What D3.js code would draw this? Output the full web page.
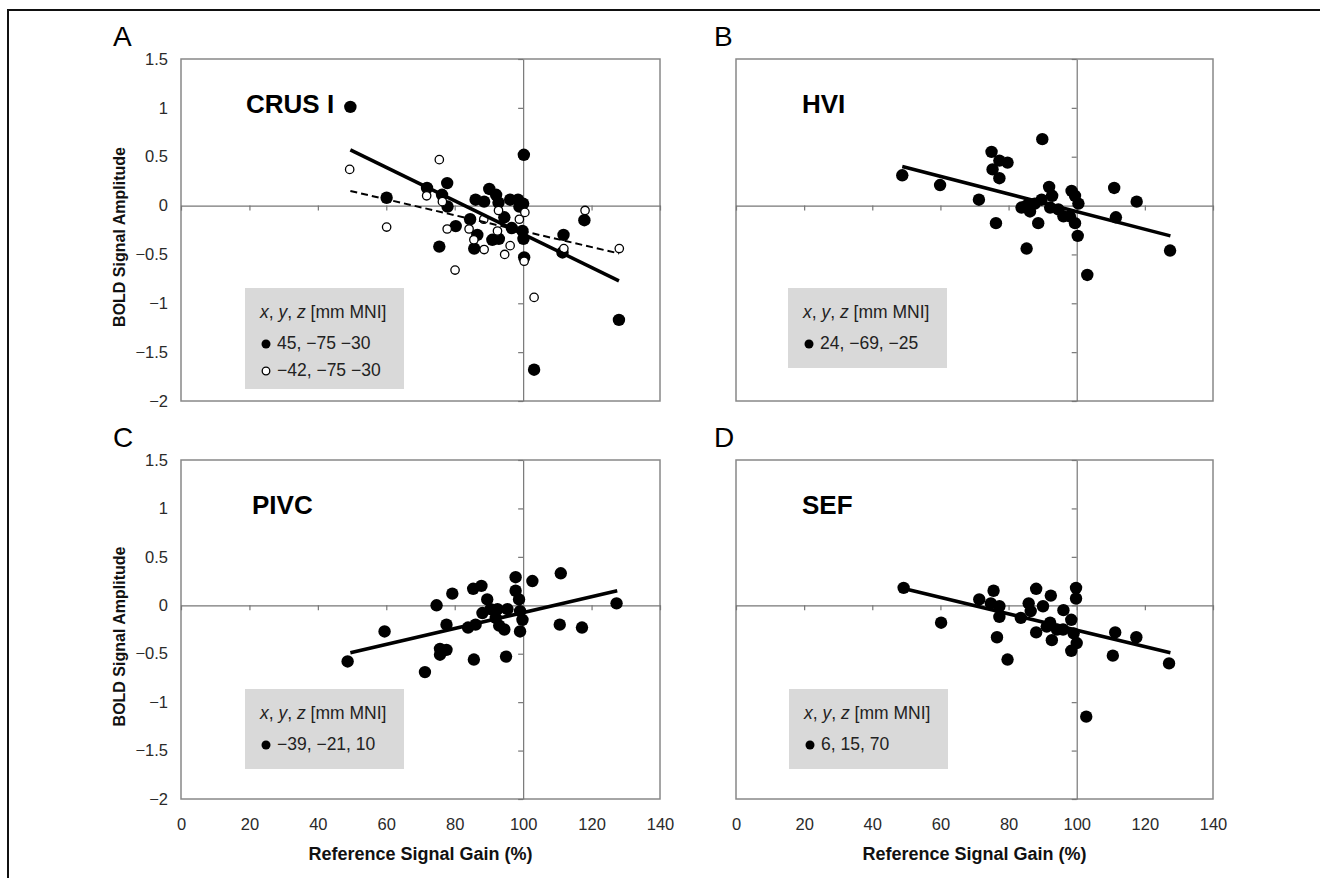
<!DOCTYPE html>
<meta charset="utf-8">
<style>

body {
  margin: 0;
  background: #fff;
}

svg {
  display: block;
  font-family: "Liberation Sans", Arial, sans-serif;
}

.frame {
  fill: none;
  stroke: #888;
  stroke-width: 1.5;
}

.zero .domain,
.zero line {
  stroke: #777;
  stroke-width: 1.2;
}

.labels .domain {
  display: none;
}

.labels text {
  font-size: 16.5px;
  fill: #2a2a2a;
}

.fit {
  fill: none;
  stroke: #000;
  stroke-width: 3.5;
}

.fit.dash {
  stroke-width: 2;
  stroke-dasharray: 7,4;
}

.dot { fill: #000; }
.dot.open { fill: #fff; stroke: #000; stroke-width: 1.3; }

.key rect { fill: #d9d9d9; }
.key text { font-size: 17.5px; fill: #222; }

.panel-title { font-size: 26px; font-weight: bold; }
.letter { font-size: 28px; }
.axis-title { font-weight: bold; fill: #111; }

</style>
<svg width="1320" height="878"></svg>
<script src="https://d3js.org/d3.v7.min.js"></script>
<script>

// ---- data: [reference signal gain %, BOLD amplitude] ----

var crusRight = [
  [49.5, 1.01], [60.1, 0.08], [71.9, 0.18], [77.8, 0.23], [76.3, 0.11],
  [77.9, -0.01], [75.5, -0.42], [80.3, -0.21], [84.5, -0.14], [85.7, -0.44],
  [86.6, -0.30], [86.1, 0.06], [88.6, 0.04], [90.1, 0.17], [92.1, 0.11],
  [92.8, 0.03], [91.0, -0.35], [92.9, -0.34], [94.5, -0.12], [96.2, 0.06],
  [98.5, 0.06], [98.9, -0.01], [96.7, -0.23], [99.8, -0.26], [100.1, -0.34],
  [100.0, 0.02], [100.2, 0.52], [100.3, -0.53], [111.8, -0.30], [111.5, -0.48],
  [117.9, -0.15], [128.0, -1.17], [103.2, -1.68]
];

var crusLeft = [
  [49.3, 0.37], [60.1, -0.22], [71.8, 0.10], [75.5, 0.47], [76.4, 0.04],
  [77.8, -0.24], [80.1, -0.66], [84.2, -0.24], [85.6, -0.35], [88.6, -0.45],
  [88.5, -0.14], [92.8, -0.05], [92.5, -0.26], [94.6, -0.50], [96.2, -0.41],
  [98.9, -0.14], [100.5, -0.07], [100.3, -0.57], [103.2, -0.94], [111.9, -0.44],
  [118.1, -0.05], [128.1, -0.44]
];

var hvi = [
  [48.8, 0.31], [59.9, 0.21], [71.3, 0.06], [75.0, 0.55], [77.3, 0.46],
  [79.7, 0.44], [75.3, 0.37], [77.3, 0.28], [76.3, -0.18], [89.9, 0.68],
  [85.3, -0.44], [88.7, -0.18], [83.8, -0.02], [85.3, 0.00], [86.3, -0.06],
  [87.7, 0.02], [89.7, 0.06], [91.9, 0.19], [92.8, 0.10], [92.2, -0.02],
  [94.6, -0.04], [96.1, -0.11], [98.5, 0.15], [99.5, 0.10], [100.5, 0.02],
  [99.5, -0.18], [98.0, -0.11], [100.3, -0.31], [103.1, -0.71], [111.0, 0.18],
  [111.5, -0.12], [117.6, 0.04], [127.4, -0.46]
];

var pivc = [
  [48.7, -0.58], [59.5, -0.27], [71.3, -0.69], [74.7, 0.00], [75.7, -0.45],
  [77.6, -0.46], [75.7, -0.51], [77.6, -0.20], [79.3, 0.12], [85.4, 0.17],
  [87.8, 0.20], [85.6, -0.56], [83.9, -0.23], [86.1, -0.20], [89.5, 0.06],
  [88.1, -0.08], [90.5, -0.04], [92.5, -0.04], [92.0, -0.13], [93.0, -0.21],
  [94.5, -0.25], [95.4, -0.04], [95.0, -0.53], [97.8, 0.29], [97.8, 0.15],
  [98.8, 0.06], [99.1, -0.06], [99.8, -0.15], [99.1, -0.27], [102.7, 0.25],
  [111.0, 0.33], [110.7, -0.20], [117.2, -0.23], [127.3, 0.02]
];

var sef = [
  [49.2, 0.18], [60.2, -0.18], [71.4, 0.06], [75.6, 0.15], [74.8, 0.02],
  [77.3, -0.01], [77.3, -0.12], [76.6, -0.33], [79.7, -0.56], [83.6, -0.13],
  [85.9, 0.02], [86.5, -0.06], [88.1, 0.17], [90.1, -0.01], [88.1, -0.28],
  [92.4, 0.10], [92.2, -0.18], [92.7, -0.36], [94.2, -0.25], [91.2, -0.22],
  [96.1, -0.05], [96.0, -0.25], [98.4, -0.15], [99.8, 0.18], [99.8, 0.07],
  [99.1, -0.29], [100.0, -0.39], [98.4, -0.47], [102.8, -1.15], [111.3, -0.28],
  [110.6, -0.52], [117.5, -0.33], [127.1, -0.60]
];

// trend lines, end points as drawn
var crusRightFit = [[49.5, 0.57], [128, -0.77]];
var crusLeftFit = [[49.5, 0.15], [128, -0.49]];
var hviFit = [[48.8, 0.40], [127.5, -0.31]];
var pivcFit = [[49.5, -0.49], [127.5, 0.15]];
var sefFit = [[49.5, 0.17], [127.5, -0.49]];

var xTicks = [0, 20, 40, 60, 80, 100, 120, 140];
var yTicks = [1.5, 1, 0.5, 0, -0.5, -1, -1.5, -2];

var regions = ["CRUS I", "HVI", "PIVC", "SEF"];
var letters = ["A", "B", "C", "D"];
var crusKeys = ["45, \u221275 \u221230", "\u221242, \u221275 \u221230"];
var hviKeys = ["24, \u221269, \u221225"];
var pivcKeys = ["\u221239, \u221221, 10"];
var sefKeys = ["6, 15, 70"];

// ---- layout ----

var svg = d3.select("svg");

var panels = [
  {x0: 181, x1: 660, y0: 59, y1: 401, title: regions[0], letter: letters[0], lx: 113, tx: 246, keyX: 245, left: true, bottom: false,
   series: [{pts: crusRight, open: false, fit: crusRightFit, key: crusKeys[0]},
            {pts: crusLeft, open: true, fit: crusLeftFit, key: crusKeys[1]}]},
  {x0: 736, x1: 1213, y0: 59, y1: 401, title: regions[1], letter: letters[1], lx: 714, tx: 802, keyX: 788, left: false, bottom: false,
   series: [{pts: hvi, open: false, fit: hviFit, key: hviKeys[0]}]},
  {x0: 181, x1: 660, y0: 460, y1: 799, title: regions[2], letter: letters[2], lx: 113, tx: 252, keyX: 245, left: true, bottom: true,
   series: [{pts: pivc, open: false, fit: pivcFit, key: pivcKeys[0]}]},
  {x0: 736, x1: 1213, y0: 460, y1: 799, title: regions[3], letter: letters[3], lx: 714, tx: 802, keyX: 789, left: false, bottom: true,
   series: [{pts: sef, open: false, fit: sefFit, key: sefKeys[0]}]}
];

var fmt = function(d) { return (d < 0 ? "\u2212" : "") + Math.abs(d); };

// figure border (top and left edges visible)
svg.append("path")
    .attr("d", "M8,878V10H1320")
    .attr("fill", "none")
    .attr("stroke", "#111")
    .attr("stroke-width", 2);

panels.forEach(function(p) {
  var x = d3.scaleLinear().domain([0, 140]).range([p.x0, p.x1]),
      y = d3.scaleLinear().domain([-2, 1.5]).range([p.y1, p.y0]);

  var g = svg.append("g");

  g.append("rect")
      .attr("class", "frame")
      .attr("x", p.x0)
      .attr("y", p.y0)
      .attr("width", p.x1 - p.x0)
      .attr("height", p.y1 - p.y0);

  // axes crossing at (100, 0)
  g.append("g")
      .attr("class", "zero")
      .attr("transform", "translate(0," + y(0) + ")")
      .call(d3.axisBottom(x).tickValues(xTicks).tickSize(5).tickSizeOuter(0).tickFormat(""));

  g.append("g")
      .attr("class", "zero")
      .attr("transform", "translate(" + x(100) + ",0)")
      .call(d3.axisLeft(y).tickValues(yTicks).tickSize(5).tickSizeOuter(0).tickFormat(""));

  if (p.left) {
    g.append("g")
        .attr("class", "labels")
        .attr("transform", "translate(" + p.x0 + ",0)")
        .call(d3.axisLeft(y).tickValues(yTicks).tickSize(0).tickPadding(13).tickFormat(fmt));

    g.append("text")
        .attr("class", "axis-title")
        .attr("text-anchor", "middle")
        .attr("transform", "translate(125," + ((p.y0 + p.y1) / 2 + 7) + ")rotate(-90)")
        .style("font-size", "16px")
        .text("BOLD Signal Amplitude");
  }

  if (p.bottom) {
    g.append("g")
        .attr("class", "labels")
        .attr("transform", "translate(0," + p.y1 + ")")
        .call(d3.axisBottom(x).tickValues(xTicks).tickSize(0).tickPadding(19).tickFormat(fmt));

    g.append("text")
        .attr("class", "axis-title")
        .attr("text-anchor", "middle")
        .attr("x", (p.x0 + p.x1) / 2)
        .attr("y", 860)
        .style("font-size", "18px")
        .text("Reference Signal Gain (%)");
  }

  g.append("text")
      .attr("class", "letter")
      .attr("x", p.lx)
      .attr("y", p.y0 - 13)
      .text(p.letter);

  g.append("text")
      .attr("class", "panel-title")
      .attr("x", p.tx)
      .attr("y", p.y0 + 54)
      .text(p.title);

  var line = d3.line()
      .x(function(d) { return x(d[0]); })
      .y(function(d) { return y(d[1]); });

  p.series.forEach(function(s) {
    g.append("g")
      .selectAll("circle")
        .data(s.pts)
      .enter().append("circle")
        .attr("class", s.open ? "dot open" : "dot")
        .attr("cx", function(d) { return x(d[0]); })
        .attr("cy", function(d) { return y(d[1]); })
        .attr("r", s.open ? 4.2 : 6.2);
  });

  p.series.forEach(function(s) {
    g.append("path")
        .datum(s.fit)
        .attr("class", s.open ? "fit dash" : "fit")
        .attr("d", line);
  });

  // legend box
  var top = p.y0 + 229;
  var key = g.append("g").attr("class", "key");

  key.append("rect")
      .attr("x", p.keyX)
      .attr("y", top)
      .attr("width", 159)
      .attr("height", p.series.length > 1 ? 101 : 80);

  var head = key.append("text")
      .attr("x", p.keyX + 15)
      .attr("y", top + 30);
  head.append("tspan").style("font-style", "italic").text("x");
  head.append("tspan").text(", ");
  head.append("tspan").style("font-style", "italic").text("y");
  head.append("tspan").text(", ");
  head.append("tspan").style("font-style", "italic").text("z");
  head.append("tspan").text(" [mm MNI]");

  p.series.forEach(function(s, i) {
    var ky = top + 61 + i * 27;
    key.append("circle")
        .attr("class", s.open ? "dot open" : "dot")
        .attr("cx", p.keyX + 21)
        .attr("cy", ky - 5)
        .attr("r", s.open ? 3.8 : 4.5);
    key.append("text")
        .attr("x", p.keyX + 32)
        .attr("y", ky)
        .text(s.key);
  });
});

</script>
